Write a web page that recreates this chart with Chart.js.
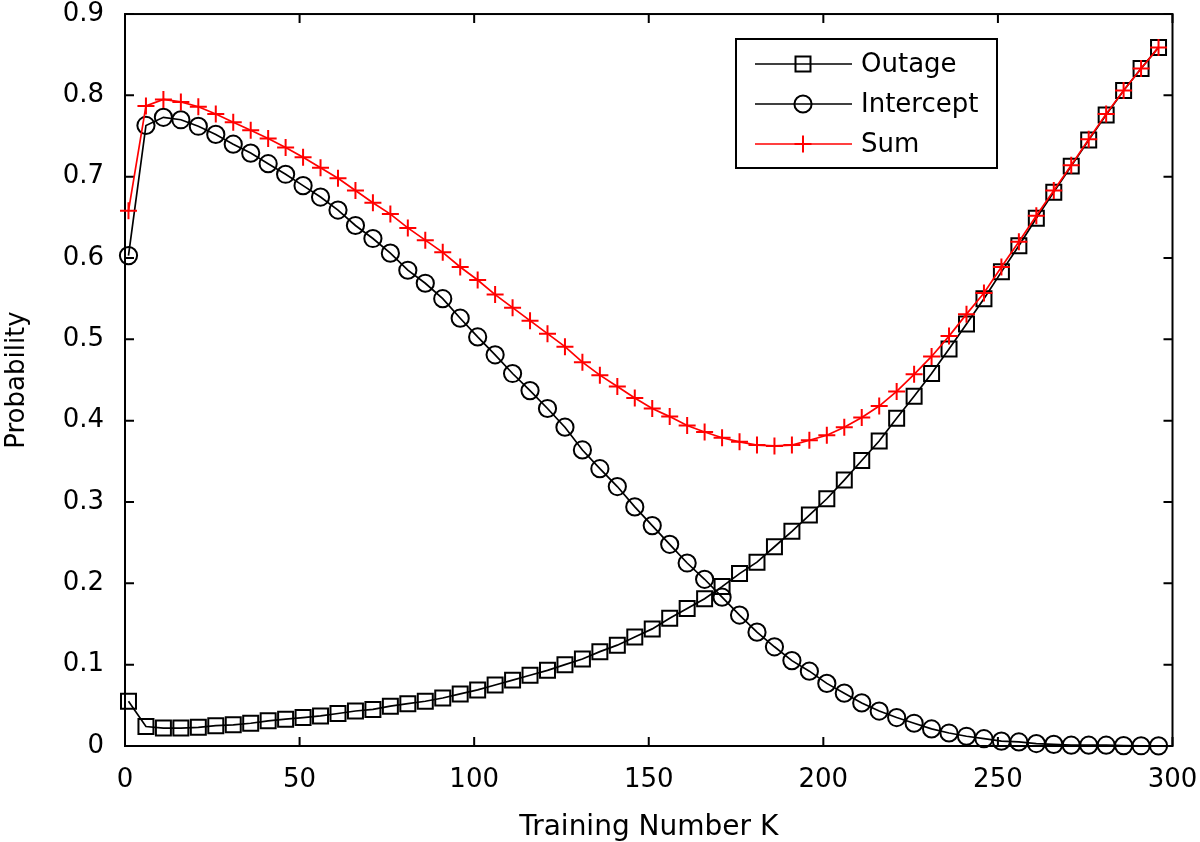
<!DOCTYPE html>
<html>
<head>
<meta charset="utf-8">
<script src="https://cdn.jsdelivr.net/npm/chart.js@4.4.1/dist/chart.umd.min.js"></script>
<style>
  html, body { margin: 0; padding: 0; background: #ffffff; }
  #wrap { width: 1200px; height: 842px; }
</style>
</head>
<body>
<div id="wrap"><canvas id="c" width="1200" height="842"></canvas></div>
<script>
// ---- data ----
const trainingK = [1, 6, 11, 16, 21, 26, 31, 36, 41, 46, 51, 56, 61, 66, 71, 76, 81, 86, 91, 96,
  101, 106, 111, 116, 121, 126, 131, 136, 141, 146, 151, 156, 161, 166, 171, 176, 181, 186, 191, 196,
  201, 206, 211, 216, 221, 226, 231, 236, 241, 246, 251, 256, 261, 266, 271, 276, 281, 286, 291, 296];

const outage = [0.055, 0.024, 0.022, 0.022, 0.023, 0.025, 0.026, 0.028, 0.031, 0.033,
  0.035, 0.037, 0.040, 0.043, 0.045, 0.049, 0.052, 0.055, 0.059, 0.064,
  0.069, 0.075, 0.081, 0.087, 0.093, 0.100, 0.107, 0.116, 0.124, 0.134,
  0.144, 0.157, 0.169, 0.181, 0.196, 0.212, 0.226, 0.245, 0.264, 0.284,
  0.304, 0.327, 0.351, 0.375, 0.403, 0.430, 0.458, 0.488, 0.519, 0.550,
  0.583, 0.615, 0.649, 0.681, 0.713, 0.745, 0.776, 0.806, 0.833, 0.859];

const intercept = [0.603, 0.763, 0.773, 0.770, 0.762, 0.752, 0.740, 0.729, 0.716, 0.703,
  0.689, 0.675, 0.659, 0.640, 0.624, 0.606, 0.585, 0.569, 0.550, 0.526,
  0.503, 0.481, 0.458, 0.437, 0.415, 0.392, 0.364, 0.341, 0.319, 0.294,
  0.271, 0.248, 0.225, 0.205, 0.183, 0.161, 0.140, 0.122, 0.105, 0.092,
  0.077, 0.065, 0.053, 0.043, 0.035, 0.028, 0.021, 0.016, 0.012, 0.009,
  0.006, 0.005, 0.003, 0.002, 0.001, 0.001, 0.001, 0.0005, 0.0003, 0.0002];

const sumProb = [0.658, 0.787, 0.795, 0.792, 0.786, 0.777, 0.767, 0.757, 0.747, 0.736,
  0.724, 0.711, 0.698, 0.683, 0.668, 0.654, 0.637, 0.622, 0.607, 0.589,
  0.573, 0.555, 0.539, 0.523, 0.507, 0.491, 0.472, 0.456, 0.442, 0.428,
  0.415, 0.405, 0.394, 0.386, 0.379, 0.374, 0.370, 0.369, 0.370, 0.376,
  0.382, 0.392, 0.404, 0.418, 0.436, 0.457, 0.479, 0.504, 0.531, 0.557,
  0.589, 0.620, 0.652, 0.683, 0.714, 0.746, 0.777, 0.806, 0.833, 0.859];

const seriesNames = ['Outage', 'Intercept', 'Sum'];
const xTickLabels = ['0', '50', '100', '150', '200', '250', '300'];
const yTickLabels = ['0', '0.1', '0.2', '0.3', '0.4', '0.5', '0.6', '0.7', '0.8', '0.9'];
const xTitle = 'Training Number K';
const yTitle = 'Probability';

// ---- styling ----
const FONT = "'DejaVu Sans', 'Liberation Sans', Arial, sans-serif";
Chart.defaults.font.family = FONT;
Chart.defaults.color = '#000';

const pts = (ys) => trainingK.map((k, i) => ({ x: k, y: ys[i] }));

const styles = [
  { color: '#000000', pointStyle: 'rect', radius: 10.6, bw: 2 },
  { color: '#000000', pointStyle: 'circle', radius: 8.6, bw: 2 },
  { color: '#ff0000', pointStyle: 'cross', radius: 8.5, bw: 2 }
];

const datasets = [outage, intercept, sumProb].map((ys, i) => ({
  label: seriesNames[i],
  data: pts(ys),
  borderColor: styles[i].color,
  backgroundColor: 'rgba(0,0,0,0)',
  borderWidth: 1.7,
  pointStyle: styles[i].pointStyle,
  pointRadius: styles[i].radius,
  pointHoverRadius: styles[i].radius,
  pointBorderColor: styles[i].color,
  pointBackgroundColor: 'rgba(0,0,0,0)',
  pointBorderWidth: styles[i].bw,
  tension: 0,
  fill: false,
  clip: false,
  order: i === 2 ? 0 : i + 1
}));

// frame + inward ticks on all four sides
const frameTicks = {
  id: 'frameTicks',
  beforeDatasetsDraw(chart) {
    const { ctx, chartArea: a, scales: { x, y } } = chart;
    const L = 9;
    ctx.save();
    ctx.strokeStyle = '#000';
    ctx.lineWidth = 2;
    ctx.strokeRect(a.left, a.top, a.right - a.left, a.bottom - a.top);
    ctx.beginPath();
    x.ticks.forEach(t => {
      const px = x.getPixelForValue(t.value);
      ctx.moveTo(px, a.bottom); ctx.lineTo(px, a.bottom - L);
      ctx.moveTo(px, a.top); ctx.lineTo(px, a.top + L);
    });
    y.ticks.forEach(t => {
      const py = y.getPixelForValue(t.value);
      ctx.moveTo(a.left, py); ctx.lineTo(a.left + L, py);
      ctx.moveTo(a.right, py); ctx.lineTo(a.right - L, py);
    });
    ctx.stroke();
    ctx.restore();
  }
};

// MATLAB-like legend box: line + marker + label
const matLegend = {
  id: 'matLegend',
  afterDraw(chart) {
    const { ctx } = chart;
    const box = { x: 736, y: 39, w: 261, h: 129 };
    ctx.save();
    ctx.fillStyle = '#fff';
    ctx.fillRect(box.x, box.y, box.w, box.h);
    ctx.strokeStyle = '#000';
    ctx.lineWidth = 2;
    ctx.strokeRect(box.x, box.y, box.w, box.h);
    seriesNames.forEach((name, i) => {
      const cy = box.y + 25 + i * 40;
      const st = styles[i];
      ctx.strokeStyle = st.color;
      ctx.lineWidth = 1.7;
      ctx.beginPath();
      ctx.moveTo(box.x + 19, cy);
      ctx.lineTo(box.x + 116, cy);
      ctx.stroke();
      const mx = box.x + 67;
      ctx.lineWidth = st.bw;
      ctx.beginPath();
      if (st.pointStyle === 'rect') {
        const s = Math.SQRT1_2 * st.radius;
        ctx.rect(mx - s, cy - s, 2 * s, 2 * s);
      } else if (st.pointStyle === 'circle') {
        ctx.arc(mx, cy, st.radius, 0, Math.PI * 2);
      } else {
        ctx.moveTo(mx - st.radius, cy); ctx.lineTo(mx + st.radius, cy);
        ctx.moveTo(mx, cy - st.radius); ctx.lineTo(mx, cy + st.radius);
      }
      ctx.stroke();
      ctx.fillStyle = '#000';
      ctx.font = '26px ' + FONT;
      ctx.textAlign = 'left';
      ctx.textBaseline = 'middle';
      ctx.fillText(name, box.x + 125, cy + 1);
    });
    ctx.restore();
  }
};

new Chart(document.getElementById('c'), {
  type: 'line',
  data: { datasets },
  options: {
    responsive: false,
    animation: false,
    devicePixelRatio: 1,
    layout: { padding: { left: 0, top: 14, right: 27.5, bottom: 0 } },
    plugins: { legend: { display: false }, tooltip: { enabled: false } },
    scales: {
      x: {
        type: 'linear',
        min: 0, max: 300,
        grid: { display: false, drawTicks: true, tickLength: 20 },
        border: { display: false },
        ticks: {
          stepSize: 50,
          padding: 0,
          font: { size: 26, lineHeight: 1.08 },
          color: '#000',
          maxRotation: 0,
          callback: (v, i) => xTickLabels[i]
        },
        title: { display: true, text: xTitle, font: { size: 28, lineHeight: 1.0 }, color: '#000', padding: { top: 0, bottom: 0 } },
        afterFit: (s) => { s.height = 96; }
      },
      y: {
        type: 'linear',
        min: 0, max: 0.9,
        grid: { display: false, drawTicks: true, tickLength: 21 },
        border: { display: false },
        ticks: {
          stepSize: 0.1,
          padding: 0,
          font: { size: 26, lineHeight: 1.08 },
          color: '#000',
          callback: (v, i) => yTickLabels[i]
        },
        title: { display: true, text: yTitle, font: { size: 26 }, color: '#000', padding: { top: 2, bottom: 0 } },
        afterFit: (s) => { s.width = 125; }
      }
    }
  },
  plugins: [frameTicks, matLegend]
});
</script>
</body>
</html>
